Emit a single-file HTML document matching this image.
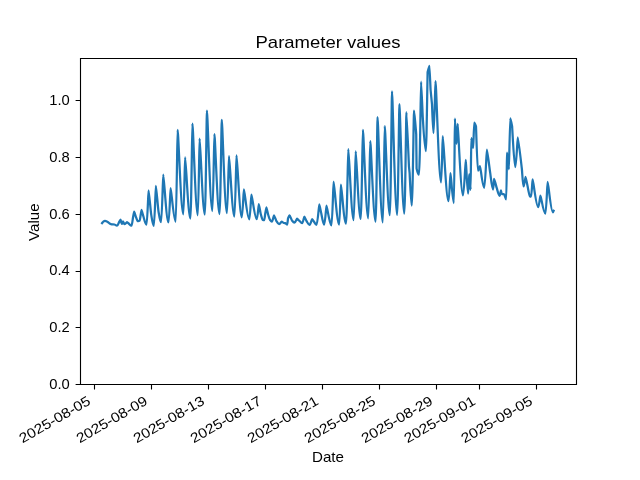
<!DOCTYPE html><html><head><meta charset="utf-8"><style>html,body{margin:0;padding:0;background:#fff;width:640px;height:480px;overflow:hidden}svg{display:block;will-change:transform}text{font-family:"Liberation Sans",sans-serif;fill:#000}</style></head><body>
<svg width="640" height="480" viewBox="0 0 640 480">
<rect x="0" y="0" width="640" height="480" fill="#fff"/>
<defs><clipPath id="ax"><rect x="80" y="57.6" width="496" height="326.4"/></clipPath></defs>
<path clip-path="url(#ax)" d="M102.06 223.12 C102.22 222.92 102.84 221.98 103.00 221.88 C103.33 221.64 104.73 220.91 105.00 220.91 C105.32 220.91 106.98 221.56 107.38 221.75 C107.74 221.92 109.20 223.24 109.56 223.44 C109.93 223.64 111.39 224.35 111.75 224.38 C112.22 224.41 114.09 224.46 114.56 224.50 C114.98 224.53 116.06 225.69 117.06 225.69 C117.81 225.69 118.62 223.04 118.94 222.50 C119.20 222.05 120.29 219.57 120.50 219.57 C120.69 219.57 121.36 223.88 121.94 223.88 C122.36 223.88 122.86 221.28 123.00 221.28 C123.21 221.28 123.94 224.16 124.56 224.16 C125.56 224.16 126.73 222.11 127.06 222.11 C127.35 222.11 128.89 223.78 129.25 224.06 C129.61 224.35 130.56 225.71 131.44 225.71 C132.06 225.71 132.74 218.83 133.00 217.50 C133.19 216.54 133.97 211.69 134.12 211.69 C134.35 211.69 135.51 215.82 135.79 216.56 C136.06 217.27 137.11 220.35 137.38 220.62 C137.51 220.76 137.85 221.17 138.17 221.17 C138.79 221.17 139.47 220.79 139.73 220.62 C140.02 220.44 141.26 209.96 141.50 209.96 C141.75 209.96 143.06 215.57 143.38 216.46 C143.90 217.95 145.25 224.69 146.50 224.69 C147.33 224.69 148.31 190.34 148.58 190.34 C148.93 190.34 150.75 211.89 151.19 214.38 C151.62 216.86 152.75 225.90 153.79 225.90 C154.62 225.90 155.60 185.86 155.88 185.86 C156.22 185.86 158.05 208.81 158.48 211.25 C158.91 213.69 160.04 222.22 161.08 222.22 C161.95 222.22 162.96 174.60 163.25 174.60 C163.95 174.60 166.40 222.40 168.50 222.40 C169.34 222.40 170.32 188.10 170.60 188.10 C171.28 188.10 173.66 221.70 175.70 221.70 C176.46 221.70 177.35 129.80 177.60 129.80 C178.36 129.80 181.02 214.30 183.30 214.30 C184.02 214.30 184.86 157.30 185.10 157.30 C185.81 157.30 188.28 218.50 190.40 218.50 C191.20 218.50 192.13 123.50 192.40 123.50 C193.12 123.50 195.64 215.30 197.80 215.30 C198.52 215.30 199.36 138.50 199.60 138.50 C200.29 138.50 202.72 214.50 204.80 214.50 C205.64 214.50 206.62 110.65 206.90 110.65 C207.63 110.65 210.20 211.00 212.40 211.00 C213.20 211.00 214.13 134.00 214.40 134.00 C215.08 134.00 217.46 214.00 219.50 214.00 C220.40 214.00 221.45 119.90 221.75 119.90 C222.44 119.90 224.84 213.10 226.90 213.10 C227.74 213.10 228.72 156.00 229.00 156.00 C229.72 156.00 232.24 216.50 234.40 216.50 C235.24 216.50 236.22 155.40 236.50 155.40 C237.21 155.40 239.68 217.30 241.80 217.30 C242.64 217.30 243.62 189.30 243.90 189.30 C244.62 189.30 247.14 219.40 249.30 219.40 C250.14 219.40 251.12 194.50 251.40 194.50 C252.12 194.50 254.64 219.14 256.80 219.14 C257.61 219.14 258.56 204.06 258.83 204.06 C259.08 204.06 260.38 212.54 260.69 213.75 C261.01 215.02 262.32 219.92 262.64 220.00 C262.90 220.06 263.58 220.20 264.20 220.20 C264.61 220.20 265.05 214.73 265.22 213.75 C265.41 212.62 266.23 207.25 266.39 207.25 C266.62 207.25 267.82 213.58 268.11 214.53 C268.43 215.61 269.74 219.57 270.06 220.00 C270.36 220.40 271.14 221.65 271.86 221.65 C272.70 221.65 273.69 215.26 273.97 215.26 C274.28 215.26 275.92 220.19 276.31 220.78 C276.77 221.47 277.95 224.03 279.05 224.03 C280.14 224.03 281.42 221.51 281.78 221.51 C282.04 221.51 283.41 222.91 283.73 222.97 C283.99 223.01 285.04 223.08 285.30 223.12 C285.60 223.18 286.38 224.61 287.09 224.61 C287.47 224.61 287.88 218.90 288.03 218.44 C288.29 217.67 289.39 215.35 289.59 215.35 C289.91 215.35 291.55 219.92 291.94 220.39 C292.35 220.89 293.44 222.61 294.44 222.61 C295.47 222.61 296.67 218.73 297.02 218.73 C297.38 218.73 299.29 220.79 299.75 221.17 C300.14 221.50 301.15 223.20 302.09 223.20 C302.98 223.20 304.02 216.68 304.32 216.68 C304.63 216.68 306.27 220.69 306.67 221.25 C307.15 221.94 308.42 224.76 309.58 224.76 C310.58 224.76 311.75 219.08 312.08 219.08 C312.31 219.08 313.47 220.91 313.75 221.25 C314.21 221.81 315.40 224.76 316.50 224.76 C317.63 224.76 318.96 204.49 319.33 204.49 C319.59 204.49 320.93 212.05 321.25 213.33 C321.74 215.28 323.00 224.57 324.17 224.57 C325.10 224.57 326.19 205.57 326.50 205.57 C326.80 205.57 328.38 215.30 328.75 216.67 C329.21 218.34 330.40 225.27 331.50 225.27 C332.34 225.27 333.32 181.70 333.60 181.70 C334.34 181.70 336.94 224.55 339.17 224.55 C339.86 224.55 340.67 184.50 340.90 184.50 C341.58 184.50 343.96 223.72 346.00 223.72 C346.92 223.72 347.99 149.00 348.30 149.00 C349.01 149.00 351.51 220.10 353.65 220.10 C354.47 220.10 355.43 151.40 355.70 151.40 C356.36 151.40 358.67 218.90 360.65 218.90 C361.55 218.90 362.60 129.80 362.90 129.80 C363.61 129.80 366.08 218.30 368.20 218.30 C369.02 218.30 369.98 141.10 370.25 141.10 C370.96 141.10 373.46 221.60 375.60 221.60 C376.36 221.60 377.25 117.00 377.50 117.00 C378.21 117.00 380.68 222.40 382.80 222.40 C383.58 222.40 384.49 126.00 384.75 126.00 C385.42 126.00 387.78 215.20 389.80 215.20 C390.68 215.20 391.71 91.40 392.00 91.40 C392.68 91.40 395.06 214.90 397.10 214.90 C398.02 214.90 399.09 104.15 399.40 104.15 C400.05 104.15 402.34 213.70 404.30 213.70 C405.14 213.70 406.12 112.10 406.40 112.10 C406.75 112.10 408.83 164.71 409.00 167.00 C409.04 167.53 409.56 172.33 409.60 172.80 C409.74 174.48 410.89 205.60 411.75 205.60 C412.65 205.60 413.70 110.60 414.00 110.60 C414.29 110.60 416.05 131.47 416.20 134.20 C416.23 134.70 416.57 168.37 416.60 168.50 C416.76 169.26 418.04 174.71 419.00 174.71 C419.84 174.71 420.82 81.70 421.10 81.70 C421.32 81.70 422.64 115.46 422.75 117.00 C422.96 119.95 424.64 151.00 425.90 151.00 C426.18 151.00 426.53 132.69 426.60 130.00 C426.70 126.15 427.57 72.41 427.60 72.20 C427.66 71.81 429.33 65.75 429.45 65.75 C429.53 65.75 430.52 88.95 430.60 90.00 C430.69 91.28 431.91 103.07 432.00 104.30 C432.10 105.62 432.90 133.00 433.50 133.00 C434.30 133.00 435.23 81.10 435.50 81.10 C436.25 81.10 438.86 182.40 441.10 182.40 C441.76 182.40 442.53 136.20 442.75 136.20 C443.52 136.20 446.20 201.10 448.50 201.10 C449.30 201.10 450.23 173.10 450.50 173.10 C450.95 173.10 452.54 203.00 453.90 203.00 C454.30 203.00 454.77 118.50 454.90 118.50 C455.11 118.50 456.39 143.80 456.50 143.80 C456.58 143.80 457.62 123.80 457.70 123.80 C458.05 123.80 460.88 195.30 463.00 195.30 C464.12 195.30 465.43 159.90 465.80 159.90 C466.11 159.90 467.18 193.60 468.10 193.60 C468.58 193.60 469.22 174.44 469.30 174.44 C469.39 174.44 470.51 189.75 470.60 189.75 C470.65 189.75 471.25 138.14 471.30 138.14 C471.43 138.14 473.07 147.98 473.20 147.98 C473.27 147.98 474.07 122.56 474.20 122.56 C474.44 122.56 475.88 125.86 476.00 126.30 C476.13 126.79 477.20 170.72 478.00 170.72 C478.80 170.72 479.73 166.13 480.00 166.13 C480.56 166.13 482.52 187.80 484.20 187.80 C485.28 187.80 486.54 149.70 486.90 149.70 C487.34 149.70 489.65 169.53 490.20 172.90 C490.68 175.86 491.94 189.52 493.10 189.52 C493.50 189.52 493.97 178.84 494.10 178.84 C494.46 178.84 496.35 186.91 496.80 188.20 C497.28 189.59 498.54 195.76 499.70 195.76 C500.18 195.76 500.74 190.46 500.90 190.46 C501.03 190.46 501.50 194.10 501.90 194.10 C502.66 194.10 503.04 194.10 503.80 194.10 C504.78 194.10 505.27 199.26 506.25 199.26 C506.55 199.26 506.95 152.60 507.00 152.60 C507.13 152.60 508.77 169.30 508.90 169.30 C508.99 169.30 510.03 118.30 510.20 118.30 C510.45 118.30 511.97 125.43 512.10 126.20 C512.31 127.49 514.02 167.10 515.30 167.10 C516.30 167.10 517.47 137.30 517.80 137.30 C518.35 137.30 521.22 163.21 521.90 169.25 C522.17 171.61 522.86 186.47 523.50 186.47 C524.34 186.47 525.32 176.90 525.60 176.90 C526.15 176.90 529.06 195.88 529.75 196.25 C529.96 196.36 530.50 196.62 531.00 196.62 C531.64 196.62 532.39 179.40 532.60 179.40 C533.35 179.40 535.99 207.17 538.25 207.17 C539.11 207.17 540.11 195.58 540.40 195.58 C541.07 195.58 543.40 213.70 545.40 213.70 C546.28 213.70 547.31 181.90 547.60 181.90 C548.31 181.90 550.78 212.38 552.90 212.38 C553.18 212.38 553.48 211.05 553.60 210.80" fill="none" stroke="#1f77b4" stroke-width="2.25" stroke-linejoin="round" stroke-linecap="square"/>
<path d="M80.5 384.5 V58.5 H576.5 V384.5 Z" fill="none" stroke="#000" stroke-width="1.11" stroke-linecap="square" stroke-linejoin="miter"/>
<path d="M94.5 384.5 V389.4 M151.5 384.5 V389.4 M208.5 384.5 V389.4 M265.5 384.5 V389.4 M322.5 384.5 V389.4 M379.5 384.5 V389.4 M436.5 384.5 V389.4 M479.5 384.5 V389.4 M536.5 384.5 V389.4 M80.5 384.5 H75.6 M80.5 327.5 H75.6 M80.5 271.5 H75.6 M80.5 214.5 H75.6 M80.5 157.5 H75.6 M80.5 100.5 H75.6" stroke="#000" stroke-width="1.11" fill="none"/>
<text x="69.75" y="388.65" font-size="13.9" text-anchor="end" textLength="20.5" lengthAdjust="spacingAndGlyphs">0.0</text>
<text x="69.75" y="331.93" font-size="13.9" text-anchor="end" textLength="20.5" lengthAdjust="spacingAndGlyphs">0.2</text>
<text x="69.75" y="275.22" font-size="13.9" text-anchor="end" textLength="20.5" lengthAdjust="spacingAndGlyphs">0.4</text>
<text x="69.75" y="218.50" font-size="13.9" text-anchor="end" textLength="20.5" lengthAdjust="spacingAndGlyphs">0.6</text>
<text x="69.75" y="161.79" font-size="13.9" text-anchor="end" textLength="20.5" lengthAdjust="spacingAndGlyphs">0.8</text>
<text x="69.75" y="105.07" font-size="13.9" text-anchor="end" textLength="20.5" lengthAdjust="spacingAndGlyphs">1.0</text>
<text transform="translate(91.45 403.72) rotate(-30)" font-size="13.8" text-anchor="end" textLength="79.5" lengthAdjust="spacingAndGlyphs">2025-08-05</text>
<text transform="translate(148.48 403.72) rotate(-30)" font-size="13.8" text-anchor="end" textLength="79.5" lengthAdjust="spacingAndGlyphs">2025-08-09</text>
<text transform="translate(205.51 403.72) rotate(-30)" font-size="13.8" text-anchor="end" textLength="79.5" lengthAdjust="spacingAndGlyphs">2025-08-13</text>
<text transform="translate(262.54 403.72) rotate(-30)" font-size="13.8" text-anchor="end" textLength="79.5" lengthAdjust="spacingAndGlyphs">2025-08-17</text>
<text transform="translate(319.57 403.72) rotate(-30)" font-size="13.8" text-anchor="end" textLength="79.5" lengthAdjust="spacingAndGlyphs">2025-08-21</text>
<text transform="translate(376.60 403.72) rotate(-30)" font-size="13.8" text-anchor="end" textLength="79.5" lengthAdjust="spacingAndGlyphs">2025-08-25</text>
<text transform="translate(433.64 403.72) rotate(-30)" font-size="13.8" text-anchor="end" textLength="79.5" lengthAdjust="spacingAndGlyphs">2025-08-29</text>
<text transform="translate(476.41 403.72) rotate(-30)" font-size="13.8" text-anchor="end" textLength="79.5" lengthAdjust="spacingAndGlyphs">2025-09-01</text>
<text transform="translate(533.44 403.72) rotate(-30)" font-size="13.8" text-anchor="end" textLength="79.5" lengthAdjust="spacingAndGlyphs">2025-09-05</text>
<text x="328" y="47.5" font-size="16.2" text-anchor="middle" textLength="145" lengthAdjust="spacingAndGlyphs">Parameter values</text>
<text x="328" y="461.5" font-size="13.9" text-anchor="middle" textLength="32" lengthAdjust="spacingAndGlyphs">Date</text>
<text transform="translate(38.5 222.2) rotate(-90)" font-size="13.9" text-anchor="middle" textLength="37.5" lengthAdjust="spacingAndGlyphs">Value</text>
</svg></body></html>
